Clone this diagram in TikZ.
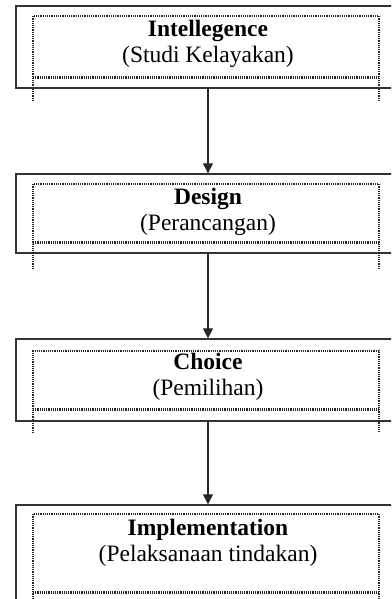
\documentclass[tikz,border=0pt]{standalone}
\usepackage{fontspec}
\setmainfont{Liberation Serif}
\usetikzlibrary{positioning,arrows.meta}

\begin{document}
\begin{tikzpicture}[
	x=1pt, y=-1pt,
	stepbox/.style={ draw=black!80, line width=1.4pt, rectangle, minimum width=384pt, inner sep=0pt },
	steptext/.style={ align=center, inner sep=0pt, font=\fontsize{23.5}{26}\selectfont },
	dotframe/.style={ black!85, line width=1.2pt, dash pattern=on 1.2pt off 1pt },
	flow/.style={ draw=black!85, line width=1.3pt, -{Triangle[width=10pt,length=10pt]} }
]
\clip (0,0) rectangle (391,599);

% the four phases, outer boxes run past the right edge
\node at (208,47) (intel) [stepbox, minimum height=82pt] {};
\node at (208,213.5) (design) [stepbox, minimum height=79pt] {};
\node at (208,380) (choice) [stepbox, minimum height=82pt] {};
\node at (208,557) (impl) [stepbox, minimum height=104pt] {};

\node[steptext, below=15pt of intel.north] (intelT) {\textbf{Intellegence}\\(Studi Kelayakan)};
\node[steptext, below=15pt of design.north] (designT) {\textbf{Design}\\(Perancangan)};
\node[steptext, below=15pt of choice.north] (choiceT) {\textbf{Choice}\\(Pemilihan)};
\node[steptext, below=15pt of impl.north] (implT) {\textbf{Implementation}\\(Pelaksanaan tindakan)};

% dotted inner frames with doubled bottom line
\draw[dotframe] (33,101) -- (33,16) -- (379,16) -- (379,101);
\draw[dotframe] (33,77) -- (379,77);
\draw[dotframe] (33,78.5) -- (379,78.5);

\draw[dotframe] (33,269) -- (33,184) -- (379,184) -- (379,269);
\draw[dotframe] (33,242) -- (379,242);
\draw[dotframe] (33,243.5) -- (379,243.5);

\draw[dotframe] (33,433) -- (33,351) -- (379,351) -- (379,433);
\draw[dotframe] (33,409) -- (379,409);
\draw[dotframe] (33,410.5) -- (379,410.5);

\draw[dotframe] (33,610) -- (33,514) -- (379,514) -- (379,610);
\draw[dotframe] (33,592) -- (379,592);
\draw[dotframe] (33,593.5) -- (379,593.5);

% flow between phases
\draw[flow] (intel.south) -- (design.north);
\draw[flow] (design.south) -- (choice.north);
\draw[flow] (choice.south) -- (impl.north);

\end{tikzpicture}
\end{document}
